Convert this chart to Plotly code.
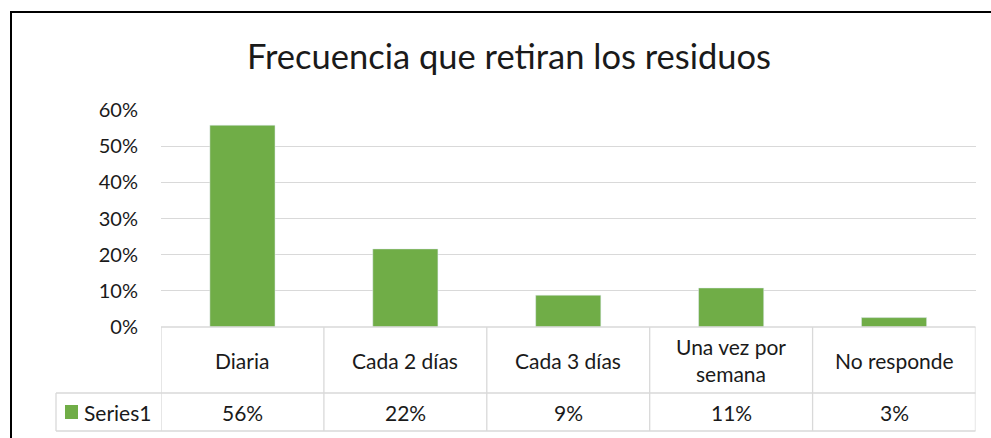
import plotly.graph_objects as go

categories = ["Diaria", "Cada 2 días", "Cada 3 días", "Una vez por<br>semana", "No responde"]
values = [0.558, 0.216, 0.088, 0.108, 0.026]
series_name = "Series1"
y_ticks = [0, 0.1, 0.2, 0.3, 0.4, 0.5, 0.6]

W, H = 991, 438
GREEN = "#70AD47"
GRID = "#d9d9d9"
FONT = "Lato"

def px(x):
    return x / W

def py(y):
    return 1 - y / H

x0_plot, x1_plot = 161, 975.5
y_top, y_zero = 110, 327
row1_bottom, row2_bottom = 393, 431
legend_left = 56

idx = list(range(len(categories)))

fig = go.Figure()
fig.add_trace(go.Bar(x=idx, y=values, marker_color=GREEN, name=series_name,
                     showlegend=False, hoverinfo="skip"))

shapes = []
# outer chart border (black)
shapes.append(dict(type="line", xref="paper", yref="paper", x0=px(11), x1=px(11), y0=py(11), y1=py(H + 5),
                   line=dict(color="black", width=2)))
shapes.append(dict(type="line", xref="paper", yref="paper", x0=px(10), x1=px(W + 5), y0=py(12), y1=py(12),
                   line=dict(color="black", width=2)))
# data table lines
tl = dict(color=GRID, width=1.3)
shapes.append(dict(type="line", xref="paper", yref="paper", x0=px(x0_plot), x1=px(x1_plot),
                   y0=py(y_zero), y1=py(y_zero), line=tl))
for yy in (row1_bottom, row2_bottom):
    shapes.append(dict(type="line", xref="paper", yref="paper", x0=px(legend_left), x1=px(x1_plot),
                       y0=py(yy), y1=py(yy), line=tl))
shapes.append(dict(type="line", xref="paper", yref="paper", x0=px(legend_left), x1=px(legend_left),
                   y0=py(row1_bottom), y1=py(row2_bottom), line=tl))
for i in range(len(categories) + 1):
    shapes.append(dict(type="line", xref="x", yref="paper", x0=i - 0.5, x1=i - 0.5,
                       y0=py(y_zero), y1=py(row2_bottom), line=tl))
# legend key
shapes.append(dict(type="rect", xref="paper", yref="paper", x0=px(65), x1=px(78), y0=py(405), y1=py(419),
                   fillcolor=GREEN, line=dict(width=0)))

annotations = []
txt = dict(family=FONT, size=21, color="#1a1a1a")
for i, c in enumerate(categories):
    annotations.append(dict(x=i, y=py((y_zero + row1_bottom) / 2), xref="x", yref="paper", text=c,
                            showarrow=False, font=txt, xanchor="center", yanchor="middle"))
    annotations.append(dict(x=i, y=py((row1_bottom + row2_bottom) / 2), xref="x", yref="paper",
                            text=f"{round(values[i] * 100):.0f}%", showarrow=False, font=txt,
                            xanchor="center", yanchor="middle"))
annotations.append(dict(x=px(82), y=py((row1_bottom + row2_bottom) / 2), xref="paper", yref="paper",
                        text=series_name, showarrow=False, font=txt, xanchor="left", yanchor="middle"))

fig.update_layout(
    width=W, height=H, margin=dict(l=0, r=0, t=0, b=0, autoexpand=False),
    paper_bgcolor="white", plot_bgcolor="white",
    title=dict(text="Frecuencia que retiran los residuos", x=px(509), xanchor="center",
               y=py(57), yanchor="middle", font=dict(family=FONT, size=34.5, color="#1a1a1a")),
    bargap=0.6,
    xaxis=dict(domain=[px(x0_plot), px(x1_plot)], range=[-0.5, len(categories) - 0.5], automargin=False,
               showticklabels=False, showgrid=False, zeroline=False, showline=False, fixedrange=True),
    yaxis=dict(domain=[py(y_zero), py(y_top)], range=[0, 0.6], tickvals=y_ticks, tickformat=".0%",
               automargin=False,
               showgrid=True, gridcolor=GRID, gridwidth=1.3, zeroline=False, showline=False,
               ticks="", ticklabelstandoff=22, tickfont=dict(family=FONT, size=20, color="#1a1a1a")),
    shapes=shapes, annotations=annotations,
)

fig.write_html("out.html", config={"displayModeBar": False},
               post_script="document.body.style.margin='0';document.body.style.overflow='hidden';")
